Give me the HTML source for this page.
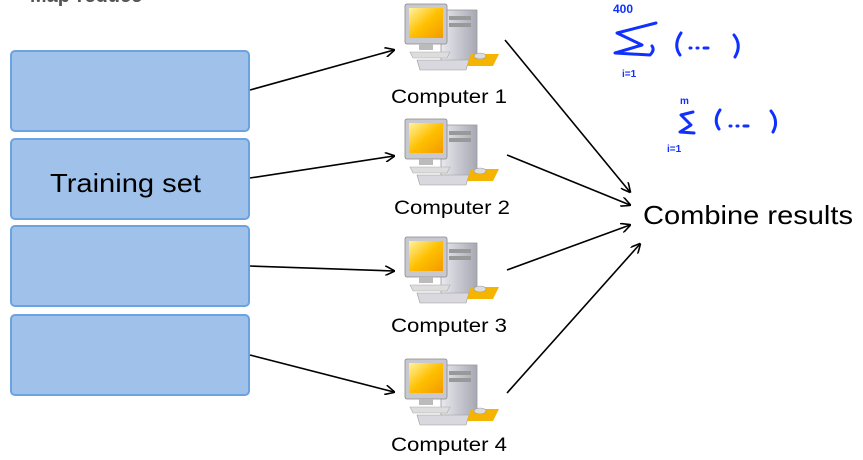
<!DOCTYPE html>
<html><head><style>body{margin:0;background:#fff}svg{display:block}text{font-family:"Liberation Sans",sans-serif}</style></head>
<body>
<svg width="863" height="460" viewBox="0 0 863 460" xmlns="http://www.w3.org/2000/svg">
<defs>
<marker id="a" markerWidth="10" markerHeight="10" refX="9" refY="5" orient="auto" markerUnits="userSpaceOnUse"><path d="M0,0 L10,5 L0,10" fill="none" stroke="#000" stroke-width="1.6"/></marker>
<linearGradient id="scr" x1="0" y1="0" x2="1" y2="1"><stop offset="0" stop-color="#fff2a0"/><stop offset="0.5" stop-color="#ffc000"/><stop offset="1" stop-color="#f29a00"/></linearGradient>
<linearGradient id="tw" x1="0" y1="0" x2="1" y2="0"><stop offset="0" stop-color="#e8e8ee"/><stop offset="1" stop-color="#a8a8b4"/></linearGradient>
<g id="pc">
<rect x="36" y="6" width="36" height="52" fill="url(#tw)" stroke="#999" stroke-width="0.8"/>
<rect x="44" y="12" width="22" height="4" fill="#999"/><rect x="44" y="19" width="22" height="4" fill="#999"/>
<rect x="0" y="0" width="42" height="40" rx="2" fill="#c8c8d0" stroke="#888" stroke-width="0.8"/>
<rect x="4" y="4" width="34" height="30" fill="url(#scr)"/>
<rect x="14" y="40" width="14" height="6" fill="#bbb"/>
<path d="M5,48 h40 l-3,6 h-34 z" fill="#ddd" stroke="#aaa" stroke-width="0.6"/>
<path d="M12,56 h52 l-3,10 h-46 z" fill="#d8d8de" stroke="#999" stroke-width="0.6"/>
<path d="M66,50 h28 l-6,12 h-26 z" fill="#f4b400"/>
<ellipse cx="75" cy="52" rx="6" ry="3" fill="#ddd" stroke="#999" stroke-width="0.6"/>
</g>
</defs>
<text x="30" y="2" font-size="20" font-weight="bold" fill="#555">Map-reduce</text>
<g fill="#a0c2ea" stroke="#6aa3e0" stroke-width="2">
<rect x="11" y="315" width="238" height="80" rx="4"/>
<rect x="11" y="226" width="238" height="80" rx="4"/>
<rect x="11" y="139" width="238" height="80" rx="4"/>
<rect x="11" y="51" width="238" height="80" rx="4"/>
</g>
<text x="50" y="192" font-size="26" textLength="151" lengthAdjust="spacingAndGlyphs" fill="#000">Training set</text>
<use href="#pc" x="405" y="4"/>
<use href="#pc" x="405" y="119"/>
<use href="#pc" x="405" y="237"/>
<use href="#pc" x="405" y="359"/>
<g font-size="19" fill="#000">
<text x="391" y="103" textLength="116" lengthAdjust="spacingAndGlyphs">Computer 1</text>
<text x="394" y="214" textLength="116" lengthAdjust="spacingAndGlyphs">Computer 2</text>
<text x="391" y="332" textLength="116" lengthAdjust="spacingAndGlyphs">Computer 3</text>
<text x="391" y="451" textLength="116" lengthAdjust="spacingAndGlyphs">Computer 4</text>
</g>
<g stroke="#000" stroke-width="1.6" fill="none" marker-end="url(#a)">
<line x1="250" y1="90" x2="394" y2="50"/>
<line x1="250" y1="178" x2="394" y2="156"/>
<line x1="250" y1="266" x2="394" y2="271"/>
<line x1="250" y1="355" x2="394" y2="392"/>
<line x1="505" y1="40" x2="630" y2="192"/>
<line x1="507" y1="155" x2="630" y2="205"/>
<line x1="507" y1="270" x2="630" y2="225"/>
<line x1="507" y1="393" x2="640" y2="244"/>
</g>
<text x="643" y="224" font-size="26" textLength="210" lengthAdjust="spacingAndGlyphs" fill="#000">Combine results</text>
<g stroke="#1030ff" stroke-width="3" fill="none" stroke-linecap="round" stroke-linejoin="round">
<path d="M656,23 L617,33 L642,45 L615,53 L650,55 Q655,50 652,46"/>
<path d="M681,33 Q673,45 680,55 M690,48 h1 M697,48 h1 M704,48 h4 M734,35 Q742,45 735,57"/>
<path d="M693,112 L681,115 L691,125 L680,132 L694,133"/>
<path d="M720,110 Q713,120 719,129 M730,126 h1 M737,126 h1 M744,126 h4 M771,111 Q779,121 773,132"/>
</g>
<g fill="#1030ff" font-family="Liberation Sans" font-weight="bold">
<text x="613" y="13" font-size="12">400</text>
<text x="622" y="77" font-size="10">i=1</text>
<text x="680" y="104" font-size="10">m</text>
<text x="667" y="152" font-size="10">i=1</text>
</g>
</svg>
</body></html>
